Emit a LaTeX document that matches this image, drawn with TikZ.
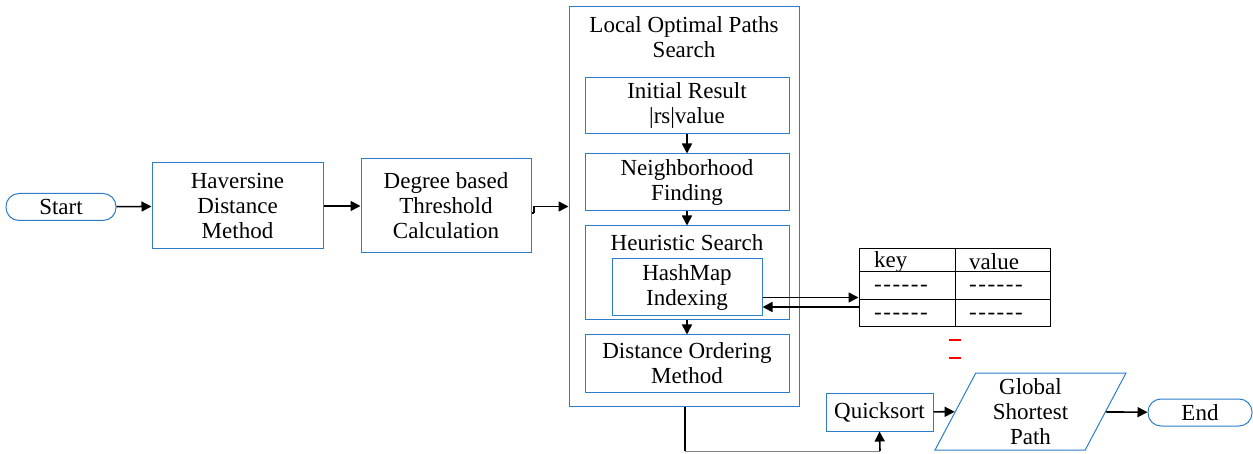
\documentclass[tikz,border=0pt]{standalone}
\usepackage{fontspec}
\setmainfont{Liberation Serif}
\newfontfamily\tnr{Liberation Serif}
\usetikzlibrary{arrows.meta,shapes.geometric}

\newcommand{\blanks}{{-}\kern1.5pt{-}\kern1.5pt{-}\kern1.5pt{-}\kern1.5pt{-}\kern1.5pt{-}}

\begin{document}
\begin{tikzpicture}[x=1pt,y=-1pt,
        every node/.style={font=\tnr\fontsize{23}{25}\selectfont, align=center, inner sep=0pt},
        box/.style={draw=boxblue, line width=1pt, rectangle},
        pill/.style={draw=boxblue, line width=1pt, rounded corners=13pt},
        arr/.style={line width=1.6pt, -{Triangle[length=10pt,width=10pt]}},
        link/.style={line width=1.6pt}]
    \definecolor{boxblue}{RGB}{45,125,200}
    \useasboundingbox (0,0) rectangle (1253,454);

    % left part
    \node[pill, minimum width=110pt, minimum height=27pt](start) at (61,207)  {Start};
    \node[box, minimum width=171pt, minimum height=86pt](hav) at (237.5,206) {Haversine\\Distance\\Method};
    \node[box, minimum width=170pt, minimum height=94pt](deg) at (446,206) {Degree based\\Threshold\\Calculation};

    % local search block
    \node[box, minimum width=230pt, minimum height=399pt](outer) at (684,206.5) {};
    \node(title) at (684,37) {Local Optimal Paths\\Search};
    \node[box, minimum width=204pt, minimum height=56pt](init)  at (687,106)   {Initial Result\\|rs|value};
    \node[box, minimum width=204pt, minimum height=57pt](neigh) at (687,182.5) {Neighborhood\\Finding};
    \node[box, minimum width=204pt, minimum height=94pt](heur)  at (687,273)   {};
    \node(heurtitle) at (687,243) {Heuristic Search};
    \node[box, minimum width=150pt, minimum height=57pt](hash)  at (687,287.5) {HashMap\\Indexing};
    \node[box, minimum width=204pt, minimum height=57pt](dist)  at (687,363.5) {Distance Ordering\\Method};

    % hash table
    \node[draw, line width=1pt, minimum width=191pt, minimum height=78pt](tab) at (954.5,288) {};
    \draw[line width=1pt] (955,249) -- (955,327);
    \draw[line width=1pt] (859,272) -- (1050,272);
    \draw[line width=1pt] (859,300) -- (1050,300);
    \node[anchor=west](k)  at (874,262) {key};
    \node[anchor=west](v)  at (969,262) {value};
    \node[anchor=west](k1) at (874,288) {\blanks};
    \node[anchor=west](v1) at (969,288) {\blanks};
    \node[anchor=west](k2) at (874,316) {\blanks};
    \node[anchor=west](v2) at (969,316) {\blanks};
    \draw[red, line width=1.6pt] (949,340) -- (961,340);
    \draw[red, line width=1.6pt] (949,358) -- (961,358);

    % right part
    \node[box, minimum width=107pt, minimum height=38pt](quick) at (879.5,412) {Quicksort};
    \node[draw=boxblue, line width=1pt, trapezium, trapezium left angle=67, trapezium right angle=113,
          trapezium stretches=true, minimum width=191pt, minimum height=77pt](glob) at (1030.5,411.5)
          {Global\\Shortest\\Path};
    \node[pill, minimum width=104pt, minimum height=27pt](end) at (1200,412.5) {End};

    \coordinate(s1) at (534,213);
    \coordinate(c1) at (685,451);
    \coordinate(c2) at (880,451);

    \draw[arr] (start) -- (hav);
    \draw[arr] (hav) -- (deg);
    \draw[link] (deg.east |- s1) -- (s1);
    \draw[arr] (s1) |- (outer.west);
    \draw[arr] (init) -- (neigh);
    \draw[arr] (neigh) -- (heur);
    \draw[arr] (heur) -- (dist);
    \draw[arr] ([yshift=-10pt]hash.east) -- ([yshift=-9.5pt]tab.west);
    \draw[arr] ([yshift=-19pt]tab.west) -- ([yshift=-19.5pt]hash.east);
    \draw[link] (outer.south -| c1) -- (c1);
    \draw[gray, line width=1pt] (c1) -- (c2);
    \draw[arr] (c2) -- (quick.south);
    \draw[arr] (quick) -- (glob);
    \draw[arr] (glob) -- (end);
\end{tikzpicture}
\end{document}
